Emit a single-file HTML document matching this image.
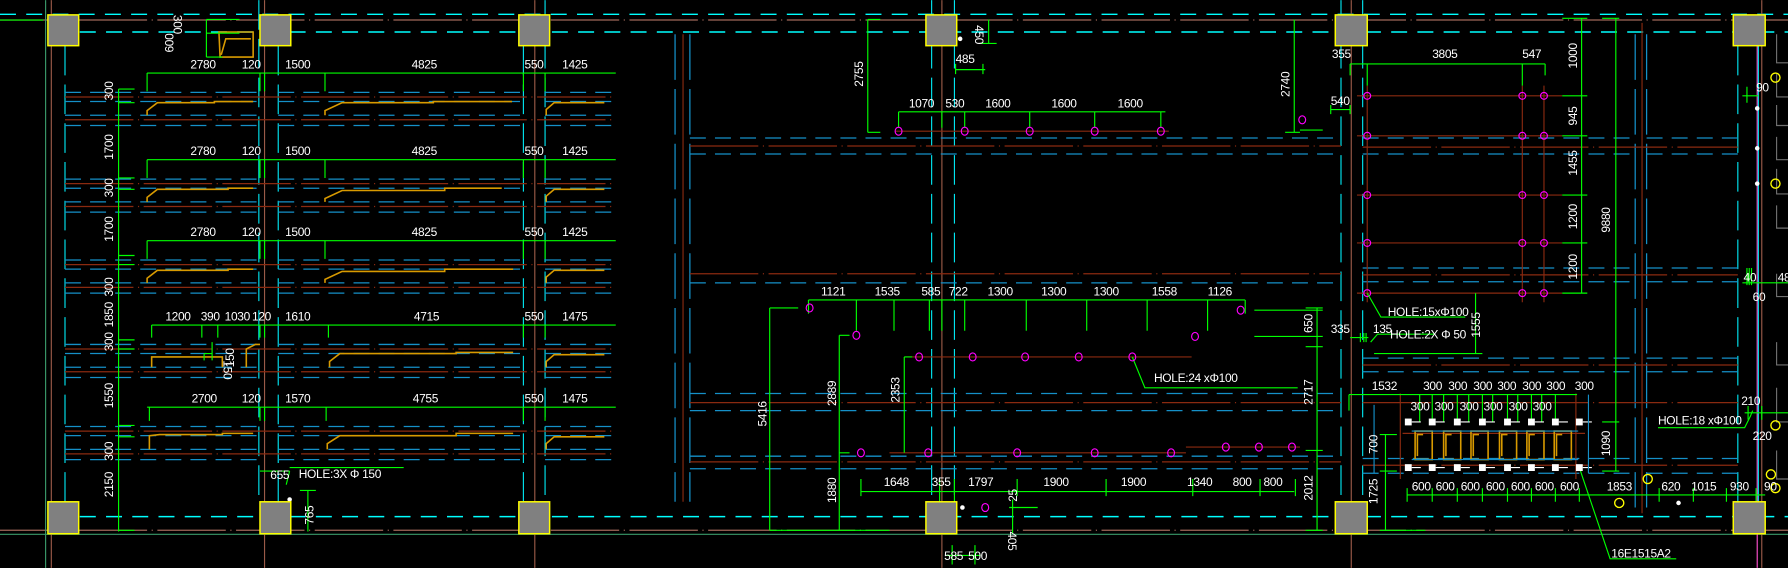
<!DOCTYPE html>
<html><head><meta charset="utf-8"><style>
html,body{margin:0;padding:0;background:#000;}
svg{display:block}
text{font-family:"Liberation Sans Narrow","Liberation Sans",sans-serif;fill:#fff;font-size:10.5px;letter-spacing:-0.3px;}
.cy{stroke:#00ffff;stroke-width:1.3;stroke-dasharray:14 9;fill:none}
.cyv{stroke:#00e5f0;stroke-width:1;stroke-dasharray:26 8;fill:none}
.bl{stroke:#1590c8;stroke-width:1.1;stroke-dasharray:14 8;fill:none}
.br{stroke:#8a2a10;stroke-width:1.1;stroke-dasharray:60 4 1 4;fill:none}
.brs{stroke:#8a2a10;stroke-width:1;fill:none}
.bv{stroke:#9a5a48;stroke-width:1;fill:none}
.g{stroke:#00ff00;stroke-width:1;fill:none}
.or{stroke:#d89a00;stroke-width:1.4;fill:none}
.mg{stroke:#ff00ff;stroke-width:1;fill:none}
.col{fill:#808080;stroke:#ffff00;stroke-width:1.3}
.gr{stroke:#707070;stroke-width:1;fill:none}
</style></head><body>
<svg width="1788" height="568" viewBox="0 0 1568 498" xmlns="http://www.w3.org/2000/svg">
<rect width="1568" height="498" fill="#000"/>
<line class="cy" x1="0" y1="12.5" x2="1568" y2="12.5"/>
<line class="cy" x1="70" y1="28" x2="1568" y2="28"/>
<line class="br" x1="0" y1="17.5" x2="1568" y2="17.5" style="stroke:#a0685a"/>
<line class="cy" x1="70" y1="453" x2="1568" y2="453"/>
<line class="br" x1="0" y1="465" x2="1568" y2="465" style="stroke:#a0685a"/>
<line x1="0" y1="468.5" x2="1568" y2="468.5" stroke="#3a9a6a" stroke-width="1"/>
<line class="g" x1="0" y1="17.5" x2="38" y2="17.5"/>
<line class="bv" x1="45" y1="0" x2="45" y2="498"/>
<line x1="40" y1="0" x2="40" y2="498" stroke="#3a9a6a"/>
<line class="bv" x1="232" y1="0" x2="232" y2="498"/>
<line class="bv" x1="469" y1="0" x2="469" y2="498"/>
<line class="brs" x1="599" y1="30" x2="599" y2="440"/>
<line class="bv" x1="826" y1="0" x2="826" y2="498"/>
<line class="bv" x1="1185" y1="0" x2="1185" y2="498"/>
<line class="brs" x1="1440" y1="20" x2="1440" y2="450"/>
<line class="bv" x1="1545" y1="0" x2="1545" y2="498"/>
<line class="cyv" x1="57" y1="40" x2="57" y2="440"/>
<line class="cyv" x1="227" y1="0" x2="227" y2="440"/>
<line class="cyv" x1="244" y1="40" x2="244" y2="440"/>
<line class="cyv" x1="459" y1="40" x2="459" y2="440"/>
<line class="cyv" x1="478" y1="0" x2="478" y2="440"/>
<line class="bl" x1="592" y1="30" x2="592" y2="440" style="stroke-dasharray:40 8"/>
<line class="bl" x1="605" y1="30" x2="605" y2="440" style="stroke-dasharray:40 8"/>
<line class="cyv" x1="817" y1="0" x2="817" y2="440"/>
<line class="cyv" x1="837" y1="0" x2="837" y2="440"/>
<line class="cyv" x1="1176" y1="0" x2="1176" y2="440"/>
<line class="cyv" x1="1195" y1="0" x2="1195" y2="440"/>
<line class="bl" x1="1434" y1="30" x2="1434" y2="445" style="stroke-dasharray:40 8"/>
<line class="bl" x1="1444" y1="30" x2="1444" y2="445" style="stroke-dasharray:40 8"/>
<line class="cyv" x1="1524" y1="40" x2="1524" y2="440"/>
<line x1="1541" y1="40" x2="1541" y2="498" stroke="#ff4fd0" stroke-width="1"/>
<line x1="1542" y1="40" x2="1542" y2="440" stroke="#00e5f0" stroke-width="1"/>
<path class="gr" d="M1558 30 V55 H1568 M1558 65 V85 H1568 M1558 92 V110 H1568 M1558 120 V140 H1568 M1558 148 V170 H1568 M1558 180 V200 H1568 M1558 240 V260 H1568 M1558 300 V320 H1568 M1558 340 V370 H1568 M1558 395 V420 H1568"/>

<g>
<g class="bl">
<path d="M57 81H228M244 81H459M478 81H540 M57 89H228M244 89H459M478 89H540 M57 101H228M244 101H459M478 101H540 M57 110H228M244 110H459M478 110H540"/>
<path d="M57 157H228M244 157H459M478 157H540 M57 165H228M244 165H459M478 165H540 M57 177H228M244 177H459M478 177H540 M57 186H228M244 186H459M478 186H540"/>
<path d="M57 228H228M244 228H459M478 228H540 M57 236H228M244 236H459M478 236H540 M57 248H228M244 248H459M478 248H540 M57 257H228M244 257H459M478 257H540"/>
<path d="M57 302H228M244 302H459M478 302H540 M57 310H228M244 310H459M478 310H540 M57 322H228M244 322H459M478 322H540 M57 331H228M244 331H459M478 331H540"/>
<path d="M57 374H228M244 374H459M478 374H540 M57 382H228M244 382H459M478 382H540 M57 394H228M244 394H459M478 394H540 M57 403H228M244 403H459M478 403H540"/>
</g>
<g class="br">
<path d="M57 85H540M57 105H540M57 161H540M57 181H540M57 232H540M57 252H540M57 306H540M57 326H540M57 378H540M57 398H540"/>
</g>
<g class="or">
<path d="M129 101V97L138 90H188V89H222M285 101V97L300 90H380V89H449M479 101V96L486 90H530"/>
<path d="M129 177V173L138 166H200V165H222M285 177V174L300 167H390V165H440M479 177V172L486 166H530"/>
<path d="M129 248V244L138 237H200V236H222M285 248V245L300 238H390V236H450M479 248V243L486 237H530"/>
<path d="M133 322V313H195V322M216 322V306L224 302H228M289 322V317L298 310H400V309H450M479 322V317L486 311H530"/>
<path d="M131 394V382L140 381H195V380H222M287 394V389L298 382H400V380H450M479 394V389L486 383H530"/>
<path d="M192 28H222V50H193Z M194 48L198 34H220"/>
</g>
<g class="g">
<path d="M129 64H540 M129 64V80 M228 64V80 M232 64V80 M285 64V80 M459 64V80 M478 64V80"/>
<path d="M129 140H540 M129 140V156 M228 140V156 M232 140V156 M285 140V156 M459 140V156 M478 140V156"/>
<path d="M129 211H540 M129 211V227 M228 211V227 M232 211V227 M285 211V227 M459 211V227 M478 211V227"/>
<path d="M133 285H540 M133 285V296 M177 285V296 M191 285V296 M228 285V296 M232 285V296 M288 285V296 M459 285V296 M478 285V296"/>
<path d="M129 357H540 M131 357V369 M228 357V369 M232 357V369 M286 357V369 M459 357V369 M478 357V369"/>
<path d="M104 78V466 M104 78H118 M104 90H118 M104 156H118 M104 166H118 M104 224H118 M104 232H118 M104 298H118 M104 306H118 M104 373H118 M104 383H118 M104 465H118"/>
<path d="M181 17V50 M181 17H210 M181 29H210 M181 50H195"/>
<path d="M228 413H254 M254 413L251 425 M254 410H354 M270 430V466 M263 430H277"/>
<path d="M179 310H186 M179 310V316 M186 300V316"/>
</g>
</g>

<g class="bl"><path d="M605 121H1176M605 135H1176M605 248H1176M605 345H1176M605 360H1176M605 400H1176M605 411H1176M1195 121H1434M1195 135H1434M1195 235H1434M1195 247H1434M1195 314H1434M1195 326H1434M1195 402H1434M1195 415H1434M1444 121H1524M1444 135H1524M1444 235H1524M1444 247H1524M1444 314H1524M1444 326H1524M1444 402H1524M1444 415H1524"/></g>
<g class="br"><path d="M605 128H1176M605 240H1176M605 353H1176M605 405H1176M1195 129H1524M1195 241H1524M1195 320H1524M1195 353H1524M1195 408H1524"/></g>
<g class="brs">
<path d="M785 115H1025M793 313H1045M1040 392H1140M780 397H1040 M1199 75V265 M1335 75V265 M1354 75V265 M1190 84H1370 M1190 119H1370 M1190 171H1370 M1190 213H1370 M1190 257H1370"/>
<path d="M1228 345V420 M1382 345V420 M1230 380H1390"/>
</g>
<g class="g">
<path d="M761 17V116 M761 17H772 M761 116H772 M838 61H864 M838 56V65 M862 56V65 M867 17V38 M860 38H874"/>
<path d="M788 98H1022 M788 98V112 M826 98V112 M846 98V112 M903 98V112 M960 98V112 M1018 98V112"/>
<path d="M1135 17V116 M1127 116H1140"/>
<path d="M709 263H1092 M709 263V275 M751 263V290 M784 263V290 M815 263V290 M826 263V290 M846 263V290 M900 263V290 M953 263V290 M1006 263V290 M1059 263V290 M1092 263V275"/>
<path d="M675 270V465 M675 270H700 M736 294V465 M736 294H745 M736 397H745 M793 313V397 M793 313H800 M675 465H780"/>
<path d="M755 431H1135 M755 420V435 M824 420V440 M837 420V440 M892 420V435 M970 420V435 M1046 420V435 M1105 420V435 M1136 420V435"/>
<path d="M885 445H910 M888 438V468 M830 487H860 M835 478V495 M855 478V495"/>
<path d="M993 313L1004 340H1138"/>
<path d="M1155 270V465 M1145 270H1160 M1145 304H1160 M1145 395H1160 M1145 465H1160"/>
<path d="M1100 272H1160 M1100 295H1160" />
</g>
<g class="mg">
<ellipse cx="788" cy="115" rx="3" ry="3.5"/><ellipse cx="846" cy="115" rx="3" ry="3.5"/><ellipse cx="903" cy="115" rx="3" ry="3.5"/><ellipse cx="960" cy="115" rx="3" ry="3.5"/><ellipse cx="1018" cy="115" rx="3" ry="3.5"/>
<ellipse cx="710" cy="270" rx="3" ry="3.5"/><ellipse cx="751" cy="294" rx="3" ry="3.5"/><ellipse cx="1088" cy="272" rx="3" ry="3.5"/><ellipse cx="1048" cy="295" rx="3" ry="3.5"/>
<ellipse cx="806" cy="313" rx="3" ry="3.5"/><ellipse cx="853" cy="313" rx="3" ry="3.5"/><ellipse cx="899" cy="313" rx="3" ry="3.5"/><ellipse cx="946" cy="313" rx="3" ry="3.5"/><ellipse cx="993" cy="313" rx="3" ry="3.5"/>
<ellipse cx="755" cy="397" rx="3" ry="3.5"/><ellipse cx="814" cy="397" rx="3" ry="3.5"/><ellipse cx="892" cy="397" rx="3" ry="3.5"/><ellipse cx="960" cy="397" rx="3" ry="3.5"/><ellipse cx="1027" cy="397" rx="3" ry="3.5"/>
<ellipse cx="1075" cy="392" rx="3" ry="3.5"/><ellipse cx="1104" cy="392" rx="3" ry="3.5"/><ellipse cx="1133" cy="392" rx="3" ry="3.5"/>
<ellipse cx="864" cy="445" rx="3" ry="3.5"/><ellipse cx="1142" cy="105" rx="3" ry="3.5"/>
<circle cx="1199" cy="84" r="3"/><circle cx="1335" cy="84" r="3"/><circle cx="1354" cy="84" r="3"/>
<circle cx="1199" cy="119" r="3"/><circle cx="1335" cy="119" r="3"/><circle cx="1354" cy="119" r="3"/>
<circle cx="1199" cy="171" r="3"/><circle cx="1335" cy="171" r="3"/><circle cx="1354" cy="171" r="3"/>
<circle cx="1199" cy="213" r="3"/><circle cx="1335" cy="213" r="3"/><circle cx="1354" cy="213" r="3"/>
<circle cx="1199" cy="257" r="3"/><circle cx="1335" cy="257" r="3"/><circle cx="1354" cy="257" r="3"/>
</g>

<g class="g">
<path d="M1184 56H1355 M1184 56V66 M1199 56V75 M1335 56V75 M1355 56V66"/>
<path d="M1387 16V257 M1370 16H1392 M1370 84H1392 M1370 119H1392 M1370 171H1392 M1370 213H1392 M1370 257H1392"/>
<path d="M1417 16V413 M1405 16H1420 M1405 370H1420 M1405 413H1420"/>
<path d="M1167 96H1184 M1167 92V100 M1184 92V100 M1140 114H1160"/>
<path d="M1199 257L1211 278H1285 M1184 296H1200 M1193 292V300 M1196 292V300 M1198 292V300 M1202 300L1208 293H1258 M1205 310H1300 M1294 257V310"/>
<path d="M1183 346H1383 M1183 346V360 M1245 346V370 M1256 346V370 M1266 346V370 M1278 346V370 M1288 346V370 M1300 346V370 M1309 346V370 M1322 346V370 M1331 346V370 M1343 346V370 M1352 346V370 M1364 346V370"/>
<path d="M1215 381V465 M1210 381H1225 M1210 413H1225 M1210 465H1250"/>
<path d="M1234 434H1548 M1234 428V440 M1256 428V440 M1278 428V440 M1300 428V440 M1322 428V440 M1343 428V440 M1364 428V440 M1385 428V440 M1455 428V440 M1485 428V440 M1514 428V440 M1540 428V440"/>
<path d="M1385 410L1412 490H1470"/>
<path d="M1454 375H1530L1535 365 L1537 360"/>
<path d="M1528 248H1568 M1532 235V250 M1534 235V250 M1536 235V250 M1530 362H1568 M1533 356V368 M1545 356V368"/>
<path d="M1532 76V90 M1528 84H1542"/>
</g>
<g fill="#fff">
<rect x="1232" y="367" width="6" height="6"/><rect x="1253" y="367" width="6" height="6"/><rect x="1275" y="367" width="6" height="6"/><rect x="1297" y="367" width="6" height="6"/><rect x="1319" y="367" width="6" height="6"/><rect x="1340" y="367" width="6" height="6"/><rect x="1361" y="367" width="6" height="6"/><rect x="1382" y="367" width="6" height="6"/>
<rect x="1232" y="407" width="6" height="6"/><rect x="1253" y="407" width="6" height="6"/><rect x="1275" y="407" width="6" height="6"/><rect x="1297" y="407" width="6" height="6"/><rect x="1319" y="407" width="6" height="6"/><rect x="1340" y="407" width="6" height="6"/><rect x="1361" y="407" width="6" height="6"/><rect x="1382" y="407" width="6" height="6"/>
<circle cx="254" cy="438" r="2"/><circle cx="844" cy="445" r="2"/><circle cx="842" cy="34" r="2"/><circle cx="1472" cy="441" r="2"/><circle cx="1541" cy="95" r="2"/><circle cx="1541" cy="130" r="2"/><circle cx="1541" cy="161" r="2"/>
</g>
<g stroke="#fff" stroke-width="1"><path d="M1238 370H1246M1259 370H1267M1281 370H1289M1303 370H1311M1325 370H1333M1346 370H1354M1367 370H1375M1388 370H1396 M1238 410H1246M1259 410H1267M1281 410H1289M1303 410H1311M1325 410H1333M1346 410H1354M1367 410H1375M1388 410H1396"/></g>
<g class="or">
<path d="M1241 403V378H1256V403Z M1243 400V381H1248 M1266 403V378H1281V403Z M1268 400V381H1273 M1290 403V378H1305V403Z M1292 400V381H1297 M1315 403V378H1330V403Z M1317 400V381H1322 M1339 403V378H1354V403Z M1341 400V381H1346 M1363 403V378H1378V403Z M1365 400V381H1370"/>
</g>
<g stroke="#1590c8" fill="none"><path d="M1238 378H1384 M1238 403H1384 M1205 355V415 M1393 346V415"/></g>
<g stroke="#ffff00" fill="none" stroke-width="1.2"><circle cx="1557" cy="68" r="4"/><circle cx="1557" cy="161" r="4"/><circle cx="1557" cy="373" r="4"/><circle cx="1445" cy="420" r="4"/><circle cx="1420" cy="441" r="4"/><circle cx="1553" cy="416" r="4"/><circle cx="1557" cy="428" r="4"/></g>

<g class="col">
<rect x="42" y="13" width="27" height="27"/><rect x="228" y="13" width="27" height="27"/><rect x="455" y="13" width="27" height="27"/><rect x="812" y="13" width="27" height="27"/><rect x="1171" y="13" width="28" height="27"/><rect x="1520" y="13" width="28" height="27"/>
<rect x="42" y="440" width="27" height="28"/><rect x="228" y="440" width="27" height="28"/><rect x="455" y="440" width="27" height="28"/><rect x="812" y="440" width="27" height="28"/><rect x="1171" y="440" width="28" height="28"/><rect x="1520" y="440" width="28" height="28"/>
</g>

<g>
<text x="167" y="60">2780</text><text x="212" y="60">120</text><text x="250" y="60">1500</text><text x="361" y="60">4825</text><text x="460" y="60">550</text><text x="493" y="60">1425</text>
<text x="167" y="136">2780</text><text x="212" y="136">120</text><text x="250" y="136">1500</text><text x="361" y="136">4825</text><text x="460" y="136">550</text><text x="493" y="136">1425</text>
<text x="167" y="207">2780</text><text x="212" y="207">120</text><text x="250" y="207">1500</text><text x="361" y="207">4825</text><text x="460" y="207">550</text><text x="493" y="207">1425</text>
<text x="145" y="281">1200</text><text x="176" y="281">390</text><text x="197" y="281">1030</text><text x="221" y="281">120</text><text x="250" y="281">1610</text><text x="363" y="281">4715</text><text x="460" y="281">550</text><text x="493" y="281">1475</text>
<text x="168" y="353">2700</text><text x="212" y="353">120</text><text x="250" y="353">1570</text><text x="362" y="353">4755</text><text x="460" y="353">550</text><text x="493" y="353">1475</text>
<text x="237" y="420">655</text><text x="262" y="419">HOLE:3X Φ 150</text>
</g>
<g>
<text transform="translate(99,88) rotate(-90)">300</text>
<text transform="translate(99,140) rotate(-90)">1700</text>
<text transform="translate(99,173) rotate(-90)">300</text>
<text transform="translate(99,212) rotate(-90)">1700</text>
<text transform="translate(99,260) rotate(-90)">300</text>
<text transform="translate(99,287) rotate(-90)">1850</text>
<text transform="translate(99,308) rotate(-90)">300</text>
<text transform="translate(99,358) rotate(-90)">1550</text>
<text transform="translate(99,404) rotate(-90)">300</text>
<text transform="translate(99,436) rotate(-90)">2150</text>
<text transform="translate(152,13) rotate(90)">300</text>
<text transform="translate(152,46) rotate(-90)">600</text>
<text transform="translate(196,316) rotate(90)">150</text>
<text transform="translate(205,322) rotate(-90)">150</text>
<text transform="translate(275,460) rotate(-90)">765</text>
</g>
<g>
<text x="838" y="55">485</text>
<text transform="translate(855,22) rotate(90)">450</text>
<text transform="translate(757,76) rotate(-90)">2755</text>
<text transform="translate(1131,85) rotate(-90)">2740</text>
<text x="797" y="94">1070</text><text x="829" y="94">530</text><text x="864" y="94">1600</text><text x="922" y="94">1600</text><text x="980" y="94">1600</text>
<text x="720" y="259">1121</text><text x="767" y="259">1535</text><text x="808" y="259">585</text><text x="832" y="259">722</text><text x="866" y="259">1300</text><text x="913" y="259">1300</text><text x="959" y="259">1300</text><text x="1010" y="259">1558</text><text x="1059" y="259">1126</text>
<text x="1012" y="335">HOLE:24 xΦ100</text>
<text transform="translate(672,374) rotate(-90)">5416</text>
<text transform="translate(733,356) rotate(-90)">2889</text>
<text transform="translate(789,353) rotate(-90)">2353</text>
<text transform="translate(733,441) rotate(-90)">1880</text>
<text x="775" y="426">1648</text><text x="817" y="426">355</text><text x="849" y="426">1797</text><text x="915" y="426">1900</text><text x="983" y="426">1900</text><text x="1041" y="426">1340</text><text x="1081" y="426">800</text><text x="1108" y="426">800</text>
<text transform="translate(892,440) rotate(-90)">25</text>
<text transform="translate(884,466) rotate(90)">405</text>
<text x="828" y="491">585</text><text x="849" y="491">500</text>
<text transform="translate(1151,292) rotate(-90)">650</text>
<text transform="translate(1151,355) rotate(-90)">2717</text>
<text transform="translate(1151,439) rotate(-90)">2012</text>
</g>
<g>
<text x="1168" y="51">355</text><text x="1256" y="51">3805</text><text x="1335" y="51">547</text>
<text x="1167" y="92">540</text>
<text transform="translate(1383,60) rotate(-90)">1000</text>
<text transform="translate(1383,110) rotate(-90)">945</text>
<text transform="translate(1383,154) rotate(-90)">1455</text>
<text transform="translate(1383,201) rotate(-90)">1200</text>
<text transform="translate(1383,245) rotate(-90)">1200</text>
<text transform="translate(1412,204) rotate(-90)">9880</text>
<text x="1217" y="277">HOLE:15xΦ100</text>
<text x="1167" y="292">335</text><text x="1204" y="292">135</text><text x="1219" y="297">HOLE:2X Φ 50</text>
<text transform="translate(1298,296) rotate(-90)">1555</text>
<text x="1203" y="342">1532</text>
<text x="1248" y="342">300</text><text x="1270" y="342">300</text><text x="1292" y="342">300</text><text x="1313" y="342">300</text><text x="1335" y="342">300</text><text x="1356" y="342">300</text><text x="1381" y="342">300</text>
<text x="1237" y="360">300</text><text x="1258" y="360">300</text><text x="1280" y="360">300</text><text x="1301" y="360">300</text><text x="1323" y="360">300</text><text x="1344" y="360">300</text>
<text transform="translate(1208,398) rotate(-90)">700</text>
<text transform="translate(1208,442) rotate(-90)">1725</text>
<text transform="translate(1412,400) rotate(-90)">1090</text>
<text x="1238" y="430">600</text><text x="1259" y="430">600</text><text x="1281" y="430">600</text><text x="1303" y="430">600</text><text x="1325" y="430">600</text><text x="1346" y="430">600</text><text x="1368" y="430">600</text>
<text x="1409" y="430">1853</text><text x="1457" y="430">620</text><text x="1483" y="430">1015</text><text x="1517" y="430">930</text><text x="1547" y="430">90</text>
<text x="1454" y="372">HOLE:18 xΦ100</text>
<text x="1413" y="489">16E1515A2</text>
<text x="1540" y="80">90</text>
<text x="1529" y="247">40</text><text x="1559" y="247">48</text>
<text x="1537" y="264">60</text>
<text x="1527" y="355">210</text><text x="1537" y="386">220</text>
</g>
</svg>
</body></html>
